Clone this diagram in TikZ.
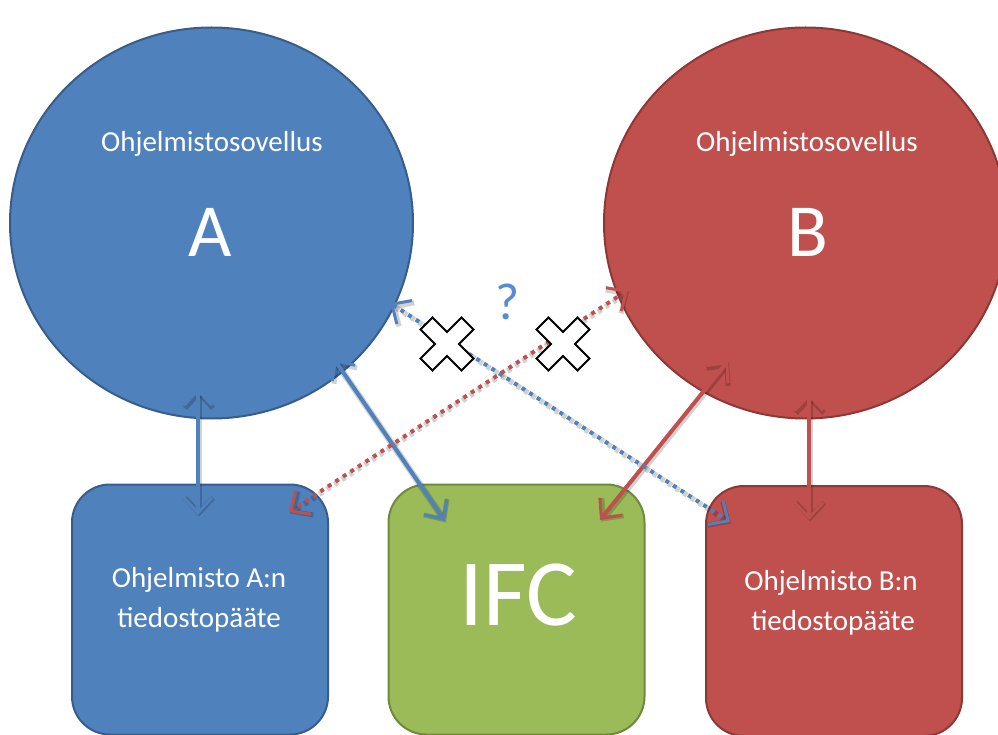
\documentclass[tikz,border=0pt]{standalone}
\usepackage{fontspec}
\setmainfont{Carlito}
\usetikzlibrary{shapes.geometric,arrows.meta}
\definecolor{bfill}{HTML}{4F81BD}
\definecolor{bline}{HTML}{385D8A}
\definecolor{rfill}{HTML}{C0504D}
\definecolor{rline}{HTML}{8C3836}
\definecolor{gfill}{HTML}{9BBB59}
\definecolor{gline}{HTML}{71893F}
\definecolor{qblue}{HTML}{548DD4}
\begin{document}
\begin{tikzpicture}[x=1pt,y=-1pt,
  app/.style={ellipse, minimum width=403pt, minimum height=391pt, line width=2pt, inner sep=0pt},
  filebox/.style={rounded corners=38pt, minimum width=256pt, minimum height=250pt, line width=2pt, inner sep=0pt},
  barb/.tip={Straight Barb[length=15pt,width=28pt,line width=3pt]},
  sbarb/.tip={Straight Barb[length=15pt,width=28pt,line width=5pt]},
  conn/.style={line width=4pt, barb-barb},
  dotconn/.style={conn, dash pattern=on 4pt off 5pt},
  shadow/.style={line width=6.5pt, draw=black, draw opacity=0.18, sbarb-sbarb,
    transform canvas={shift={(1pt,-1.5pt)}}},
  dotshadow/.style={shadow, line width=5.5pt, dash pattern=on 4pt off 5pt},
  lbl/.style={text=white, font=\fontsize{29}{40}\selectfont, anchor=base, inner sep=0pt},
  big/.style={text=white, font=\fontsize{75}{80}\selectfont, anchor=base, inner sep=0pt},
  crossmark/.style={fill=white, draw=black, line width=2pt, line join=miter}]
\useasboundingbox (0,0) rectangle (998,735);
\clip (0,0) rectangle (998,735);

% applications
\node[app, fill=bfill, draw=bline] (A) at (211.5,223) {};
\node[app, fill=rfill, draw=rline] (B) at (805.5,223) {};
\node[lbl] (Atitle) at (212,152) {Ohjelmistosovellus};
\node[big] (Aletter) at (210,257) {A};
\node[lbl] (Btitle) at (807,152) {Ohjelmistosovellus};
\node[big] (Bletter) at (808,257) {B};

% boxes
\node[filebox, fill=bfill, draw=bline] (FA) at (200,609.5) {};
\node[filebox, fill=gfill, draw=gline] (IFC) at (516.5,609.5) {};
\node[filebox, fill=rfill, draw=rline] (FB) at (834,611) {};
\node[lbl] (FA1) at (199,587) {Ohjelmisto A:n};
\node[lbl] (FA2) at (199,627) {tiedostopääte};
\node[lbl] (FB1) at (831,590) {Ohjelmisto B:n};
\node[lbl] (FB2) at (833,630) {tiedostopääte};
\node[text=white, font=\fontsize{95}{100}\selectfont, anchor=base, inner sep=0pt] (IFCt) at (518,625) {IFC};

% connector end points
\coordinate (a1) at (198,388);
\coordinate (fa1) at (198,515);
\coordinate (b1) at (809,393);
\coordinate (fb1) at (809,520);
\coordinate (a2) at (334,359);
\coordinate (i1) at (445,521);
\coordinate (b2) at (728,361);
\coordinate (i2) at (600,520);
\coordinate (a3) at (390,303);
\coordinate (fb3) at (730,522);
\coordinate (b3) at (628,290);
\coordinate (fa3) at (289,512);

% connector shadows
\draw[shadow] (a1) -- (fa1);
\draw[shadow] (b1) -- (fb1);
\draw[shadow] (a2) -- (i1);
\draw[shadow] (b2) -- (i2);
\draw[dotshadow] (a3) -- (fb3);
\draw[dotshadow] (b3) -- (fa3);

% connectors
\draw[conn, draw=bfill] (a1) -- (fa1);
\draw[conn, draw=rfill] (b1) -- (fb1);
\draw[conn, draw=bfill] (a2) -- (i1);
\draw[conn, draw=rfill] (b2) -- (i2);
\draw[dotconn, draw=bfill] (a3) -- (fb3);
\draw[dotconn, draw=rfill] (b3) -- (fa3);

% question mark
\node[text=qblue, font=\fontsize{52}{56}\selectfont, anchor=base, inner sep=0pt] (q) at (508,319) {?};

% crosses
\foreach \cx in {447,563} {
  \draw[crossmark, shift={(\cx,344)}, rotate=45]
    (-8.5,-29) -- (8.5,-29) -- (8.5,-8.5) -- (29,-8.5) -- (29,8.5) -- (8.5,8.5)
    -- (8.5,29) -- (-8.5,29) -- (-8.5,8.5) -- (-29,8.5) -- (-29,-8.5) -- (-8.5,-8.5) -- cycle;
}
\end{tikzpicture}
\end{document}
